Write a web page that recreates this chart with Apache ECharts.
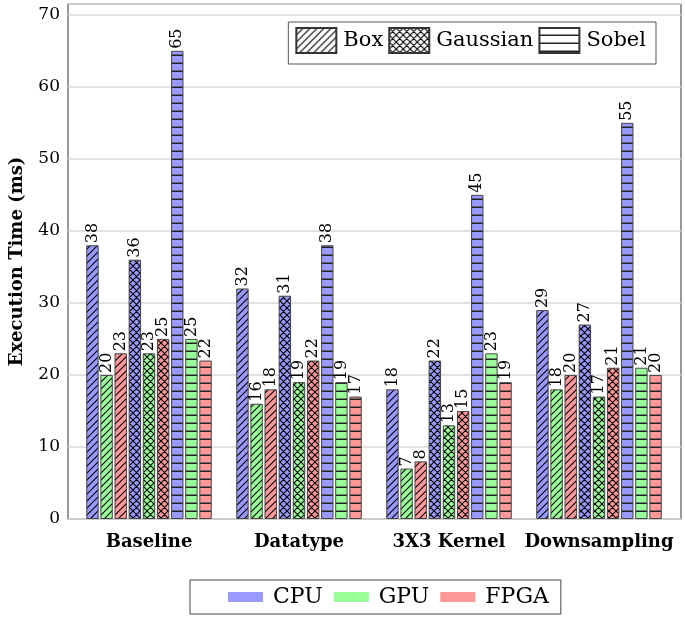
<!DOCTYPE html>
<html>
<head>
<meta charset="utf-8">
<script src="https://cdn.jsdelivr.net/npm/echarts@6/dist/echarts.min.js"></script>
<style>
html,body{margin:0;padding:0;background:#fff;}
#chart{width:685px;height:622px;}
</style>
</head>
<body>
<div id="chart"></div>
<script>
// ---- data ----
const categories = ['Baseline', 'Datatype', '3X3 Kernel', 'Downsampling'];
const devices = ['CPU', 'GPU', 'FPGA'];
const filters = ['Box', 'Gaussian', 'Sobel'];
const cpuBox      = [38, 32, 18, 29];
const gpuBox      = [20, 16, 7, 18];
const fpgaBox     = [23, 18, 8, 20];
const cpuGaussian = [36, 31, 22, 27];
const gpuGaussian = [23, 19, 13, 17];
const fpgaGaussian= [25, 22, 15, 21];
const cpuSobel    = [65, 38, 45, 55];
const gpuSobel    = [25, 19, 23, 21];
const fpgaSobel   = [22, 17, 19, 20];
const yMin = 0, yMax = 71.5, yStep = 10;
const yTitle = 'Execution Time (ms)';

// ---- styles ----
const deviceColors = {CPU: '#9999ff', GPU: '#99ff99', FPGA: '#ff9999'};
const filterKinds = {Box: 'box', Gaussian: 'gauss', Sobel: 'sobel'};

function pattern(bg, kind) {
  const s = kind === 'sobel' ? 8 : 7;
  const c = document.createElement('canvas');
  c.width = s; c.height = s;
  const g = c.getContext('2d');
  g.fillStyle = bg; g.fillRect(0, 0, s, s);
  g.strokeStyle = '#000'; g.lineWidth = 1.1;
  g.beginPath();
  if (kind === 'box' || kind === 'gauss') {
    g.moveTo(0, s); g.lineTo(s, 0);
    g.moveTo(-s / 2, s / 2); g.lineTo(s / 2, -s / 2);
    g.moveTo(s / 2, s * 1.5); g.lineTo(s * 1.5, s / 2);
  }
  if (kind === 'gauss') {
    g.moveTo(0, 0); g.lineTo(s, s);
    g.moveTo(-s / 2, s / 2); g.lineTo(s / 2, s * 1.5);
    g.moveTo(s / 2, -s / 2); g.lineTo(s * 1.5, s / 2);
  }
  if (kind === 'sobel') {
    g.strokeStyle = '#222'; g.lineWidth = 1.5;
    g.moveTo(0, s - 0.75); g.lineTo(s, s - 0.75);
  }
  g.stroke();
  return {image: c, repeat: 'repeat'};
}

const values = {
  CPU: {Box: cpuBox, Gaussian: cpuGaussian, Sobel: cpuSobel},
  GPU: {Box: gpuBox, Gaussian: gpuGaussian, Sobel: gpuSobel},
  FPGA: {Box: fpgaBox, Gaussian: fpgaGaussian, Sobel: fpgaSobel}
};

const serif = 'DejaVu Serif';
const series = [];
filters.forEach(f => {
  devices.forEach(d => {
    series.push({
      name: d + ' ' + f,
      type: 'bar',
      xAxisIndex: 1, yAxisIndex: 1,
      barWidth: 12.4, barGap: '14%',
      data: values[d][f],
      itemStyle: {color: pattern(deviceColors[d], filterKinds[f]), borderColor: '#444', borderWidth: 1},
      label: {show: true, position: 'top', rotate: 90, align: 'left', verticalAlign: 'middle',
              distance: 2, fontFamily: serif, fontSize: 16, color: '#000'}
    });
  });
});
// legend-only series
filters.forEach(f => series.push({
  name: f, type: 'bar', xAxisIndex: 0, yAxisIndex: 0, data: [],
  itemStyle: {color: pattern('#ffffff', filterKinds[f]), borderColor: '#333', borderWidth: 1}
}));
devices.forEach(d => series.push({
  name: d, type: 'bar', xAxisIndex: 0, yAxisIndex: 0, data: [],
  itemStyle: {color: deviceColors[d], borderWidth: 0}
}));

const chart = echarts.init(document.getElementById('chart'), null, {renderer: 'canvas'});
chart.setOption({
  animation: false,
  backgroundColor: '#fff',
  grid: [
    {left: 67, top: 4, width: 614, height: 515, show: true, borderColor: '#555', borderWidth: 1.2, backgroundColor: 'transparent'},
    {left: 74, top: 4, width: 600, height: 515}
  ],
  xAxis: [
    {type: 'category', gridIndex: 0, data: categories, show: false},
    {type: 'category', gridIndex: 1, data: categories,
     axisLine: {show: false}, axisTick: {show: false},
     axisLabel: {interval: 0, fontFamily: serif, fontWeight: 'bold', fontSize: 18, color: '#000', margin: 14}}
  ],
  yAxis: [
    {type: 'value', gridIndex: 0, min: yMin, max: yMax, interval: yStep,
     name: yTitle, nameLocation: 'middle', nameGap: 42,
     nameTextStyle: {fontFamily: serif, fontWeight: 'bold', fontSize: 18, color: '#000'},
     axisLine: {show: false}, axisTick: {show: false},
     axisLabel: {fontFamily: serif, fontSize: 17, color: '#000', margin: 8, showMaxLabel: false},
     splitLine: {show: true, lineStyle: {color: '#d9d9d9', width: 1.5}}},
    {type: 'value', gridIndex: 1, min: yMin, max: yMax, interval: yStep, show: false, splitLine: {show: false}}
  ],
  legend: [
    {data: filters, top: 22, right: 29, orient: 'horizontal', icon: 'rect',
     itemWidth: 40, itemHeight: 25, itemGap: 5, padding: [5, 10, 10, 7],
     borderColor: '#555', borderWidth: 1, backgroundColor: '#fff',
     textStyle: {fontFamily: serif, fontSize: 21, color: '#000', padding: [0, 0, 0, 2]}},
    {data: devices, left: 190, top: 580, orient: 'horizontal', icon: 'rect',
     itemWidth: 35, itemHeight: 10, itemGap: 11, padding: [6, 12, 6, 38],
     borderColor: '#444', borderWidth: 1, backgroundColor: '#fff',
     textStyle: {fontFamily: serif, fontSize: 22, color: '#000', padding: [0, 0, 0, 5]}}
  ],
  series: series
});
</script>
</body>
</html>
